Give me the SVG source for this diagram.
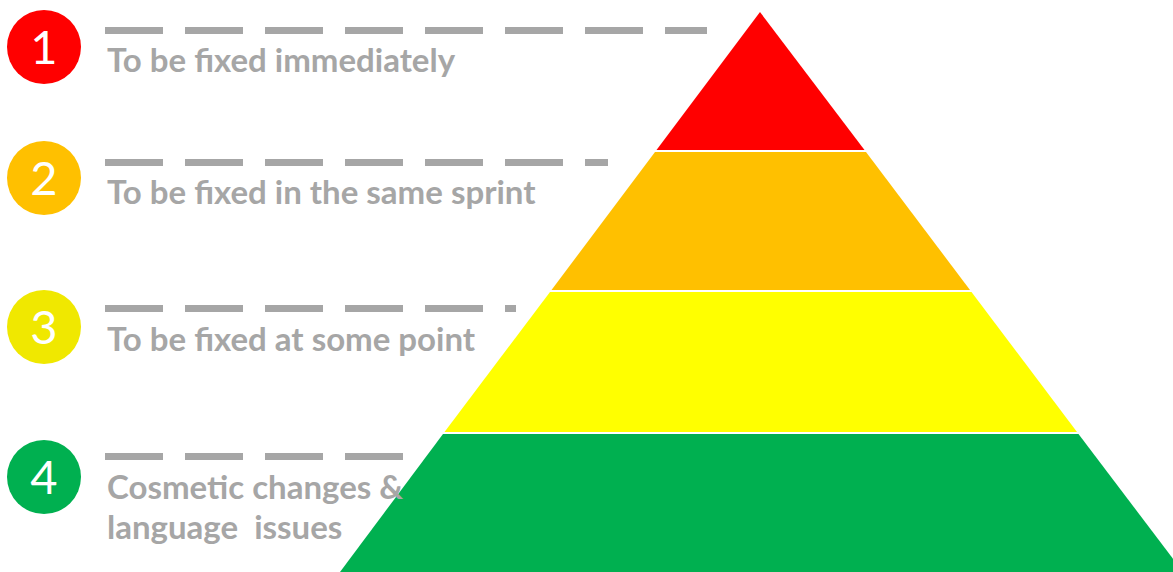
<svg xmlns="http://www.w3.org/2000/svg" width="1173" height="572" viewBox="0 0 1173 572">
  <style>
    .num { font-family: Lato, "Open Sans", "Liberation Sans", sans-serif; font-weight: 400; font-size: 47px; fill: #FFFFFF; text-anchor: middle; }
    .lbl { font-family: Lato, "Open Sans", "Liberation Sans", sans-serif; font-weight: 700; font-size: 33px; fill: #A6A6A6; }
    .dash { stroke: #A6A6A6; stroke-width: 7; stroke-dasharray: 58 22; fill: none; }
  </style>
  <rect x="0" y="0" width="1173" height="572" fill="#FFFFFF"/>
  <g id="pyramid">
    <polygon id="layer1" points="760,12 656.5,150 864.5,150" fill="#FF0000"/>
    <polygon id="layer2" points="655,152 866,152 970,290 551.5,290" fill="#FFC000"/>
    <polygon id="layer3" points="550,292 971.5,292 1077,432 444.5,432" fill="#FFFF00"/>
    <polygon id="layer4" points="443,434 1078.5,434 1183,572 340,572" fill="#00B050"/>
  </g>
  <g id="connectors">
    <line class="dash" x1="105" y1="30.5" x2="707" y2="30.5"/>
    <line class="dash" x1="105" y1="162.5" x2="608" y2="162.5"/>
    <line class="dash" x1="105" y1="308.5" x2="516" y2="308.5"/>
    <line class="dash" x1="105" y1="456.5" x2="403" y2="456.5"/>
  </g>
  <g id="item1">
    <circle cx="44" cy="47" r="37" fill="#FF0000"/>
    <text class="num" x="44" y="64">1</text>
    <text class="lbl" x="107" y="72">To be fixed immediately</text>
  </g>
  <g id="item2">
    <circle cx="44" cy="178" r="37" fill="#FFC000"/>
    <text class="num" x="44" y="195">2</text>
    <text class="lbl" x="107" y="204">To be fixed in the same sprint</text>
  </g>
  <g id="item3">
    <circle cx="44" cy="327" r="37" fill="#F0E800"/>
    <text class="num" x="44" y="344">3</text>
    <text class="lbl" x="107" y="351">To be fixed at some point</text>
  </g>
  <g id="item4">
    <circle cx="44" cy="477" r="37" fill="#00B050"/>
    <text class="num" x="44" y="494">4</text>
    <text class="lbl" x="107" y="499">Cosmetic changes &amp;</text>
    <text class="lbl" x="107" y="539" xml:space="preserve">language  issues</text>
  </g>
</svg>
